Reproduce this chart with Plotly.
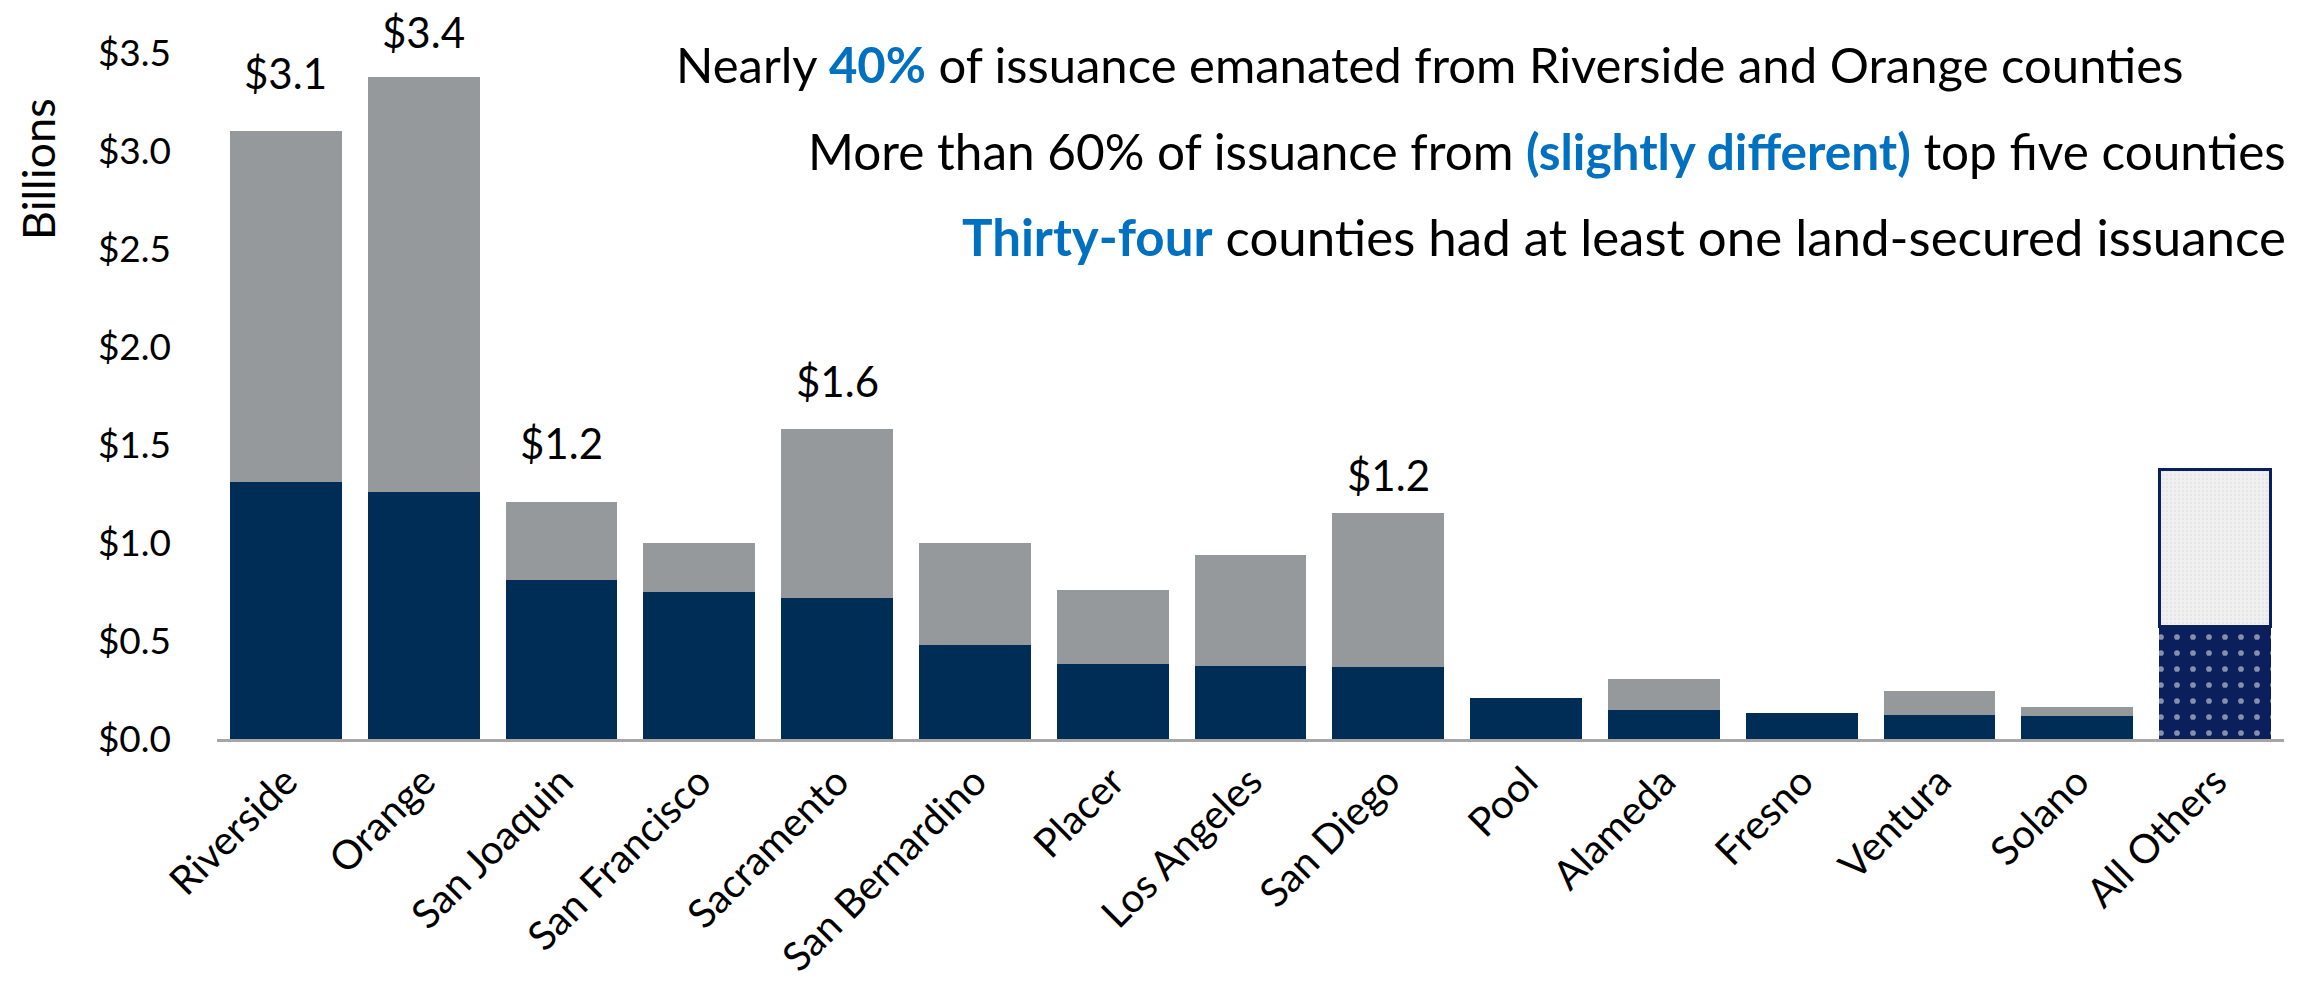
import plotly.graph_objects as go

# ---- data ----
counties = ["Riverside", "Orange", "San Joaquin", "San Francisco", "Sacramento",
            "San Bernardino", "Placer", "Los Angeles", "San Diego", "Pool",
            "Alameda", "Fresno", "Ventura", "Solano"]
dark_values = [1.31, 1.26, 0.81, 0.75, 0.72, 0.48, 0.385, 0.37, 0.365, 0.21,
               0.15, 0.135, 0.125, 0.115]
gray_values = [1.79, 2.12, 0.40, 0.25, 0.86, 0.52, 0.375, 0.57, 0.79, 0.0,
               0.155, 0.0, 0.12, 0.05]
others_category = ["All Others"]
others_dark = [0.575]
others_top = [0.80]
total_labels = ["$3.1", "$3.4", "$1.2", "", "$1.6", "", "", "", "$1.2", "",
                "", "", "", ""]
ytick_vals = [0, 0.5, 1.0, 1.5, 2.0, 2.5, 3.0, 3.5]
ytick_text = ["$0.0", "$0.5", "$1.0", "$1.5", "$2.0", "$2.5", "$3.0", "$3.5"]

# ---- style ----
NAVY = "#002d55"
GRAY = "#96999c"
PAT_NAVY = "#0a1f5c"
BLUE = "#0070c0"
FONT = "Lato"
label_shift = [58, 45, 59, 0, 48, 0, 0, 0, 38, 0, 0, 0, 0, 0]

fig = go.Figure()
fig.add_trace(go.Bar(x=counties, y=dark_values, marker=dict(color=NAVY, line=dict(width=0)),
                     showlegend=False))
fig.add_trace(go.Bar(x=counties, y=gray_values, marker=dict(color=GRAY, line=dict(width=0)),
                     showlegend=False))
fig.add_trace(go.Bar(x=others_category, y=others_dark,
                     marker=dict(color=PAT_NAVY, line=dict(width=0),
                                 pattern=dict(shape=".", fgcolor="white", bgcolor=PAT_NAVY,
                                              size=16, solidity=0.1)),
                     showlegend=False))
fig.add_trace(go.Bar(x=others_category, y=others_top,
                     marker=dict(color="#ededed", line=dict(width=3, color=PAT_NAVY),
                                 pattern=dict(shape=".", fgcolor="#dcdcdc", bgcolor="#f0f0f0",
                                              size=4, solidity=0.3)),
                     showlegend=False))

for i, lab in enumerate(total_labels):
    if lab:
        fig.add_annotation(x=counties[i], y=dark_values[i] + gray_values[i], text=lab,
                           showarrow=False, yanchor="middle", yshift=label_shift[i],
                           font=dict(family=FONT, size=42, color="black"))

fig.add_annotation(xref="paper", yref="paper", x=0.9521, y=0.984, xanchor="right", yanchor="middle",
                   text="Nearly <b><span style='color:%s'>40%%</span></b> of issuance emanated from Riverside and Orange counties" % BLUE,
                   showarrow=False, font=dict(family=FONT, size=49, color="black"))
fig.add_annotation(xref="paper", yref="paper", x=1.0019, y=0.8571, xanchor="right", yanchor="middle",
                   text="More than 60%% of issuance from <b><span style='color:%s'>(slightly different)</span></b> top five counties" % BLUE,
                   showarrow=False, font=dict(family=FONT, size=49.5, color="black"))
fig.add_annotation(xref="paper", yref="paper", x=1.0019, y=0.7332, xanchor="right", yanchor="middle",
                   text="<b><span style='color:%s'>Thirty-four</span></b> counties had at least one land-secured issuance" % BLUE,
                   showarrow=False, font=dict(family=FONT, size=51, color="black"))
fig.add_annotation(xref="paper", yref="paper", x=-0.0866, y=0.831, xanchor="center", yanchor="middle",
                   text="Billions", textangle=-90, showarrow=False,
                   font=dict(family=FONT, size=45, color="black"))

fig.update_layout(
    barmode="stack", bargap=0.19,
    width=2306, height=982,
    margin=dict(l=209, r=30, t=45, b=251, autoexpand=False),
    paper_bgcolor="white", plot_bgcolor="white",
    font=dict(family=FONT, color="black"),
)
fig.update_xaxes(categoryorder="array", categoryarray=counties + others_category,
                 tickangle=-45, tickfont=dict(family=FONT, size=40, color="black"),
                 showline=True, linecolor="#a6a6a6", linewidth=3, ticks="",
                 showgrid=False, zeroline=False, automargin=False)
fig.update_yaxes(range=[0, 3.5], tickvals=ytick_vals, ticktext=ytick_text,
                 tickfont=dict(family=FONT, size=37, color="black"),
                 showline=False, showgrid=False, zeroline=False, ticks="",
                 ticklabelstandoff=45, automargin=False)

fig.write_html("out.html")
